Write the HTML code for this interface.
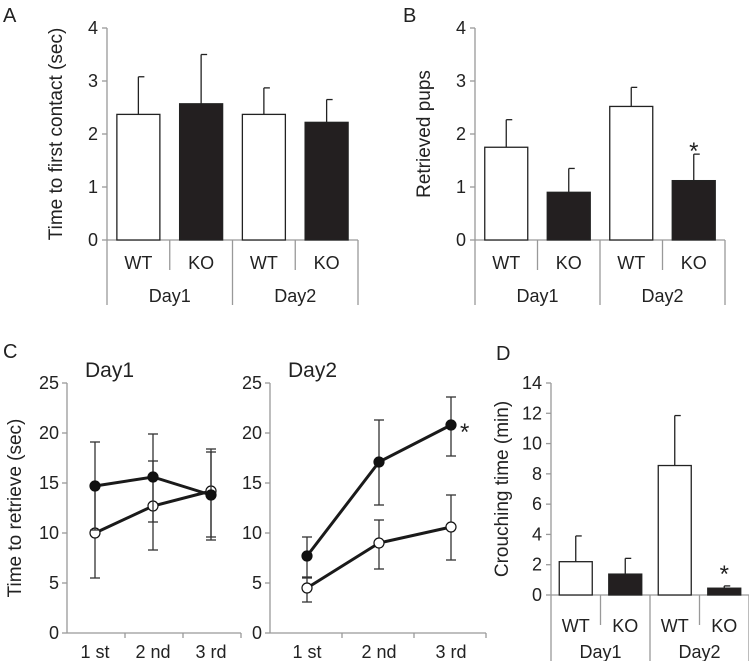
<!DOCTYPE html>
<html><head><meta charset="utf-8"><style>
body{margin:0;background:#fff;}
svg{display:block;font-family:"Liberation Sans",Arial,sans-serif;fill:#222;}
</style></head><body>
<svg id="fig" width="749" height="661" viewBox="0 0 749 661">
<text x="3" y="22" font-size="20">A</text>
<text x="403" y="22" font-size="20">B</text>
<text x="3" y="358" font-size="20">C</text>
<text x="496" y="360" font-size="20">D</text>
</svg>
<script>
const NS="http://www.w3.org/2000/svg";
const svg=document.getElementById('fig');
function mk(t,a,parent){const e=document.createElementNS(NS,t);for(const k in a)e.setAttribute(k,a[k]);(parent||svg).appendChild(e);return e;}

// Panel A data
const aCategories=["WT","KO","WT","KO"];
const aDays=["Day1","Day2"];
const aValues=[2.37,2.57,2.37,2.22];
const aErrors=[0.71,0.93,0.5,0.43];
const aTicks=[0,1,2,3,4];
// Panel B data
const bValues=[1.75,0.9,2.52,1.12];
const bErrors=[0.52,0.45,0.36,0.5];
const bTicks=[0,1,2,3,4];
// Panel D data
const dValues=[2.2,1.38,8.55,0.45];
const dErrors=[1.7,1.04,3.3,0.15];
const dTicks=[0,2,4,6,8,10,12,14];
// Panel C data
const cTicks=[0,5,10,15,20,25];
const cTrials=["1 st","2 nd","3 rd"];
const day1KO=[14.7,15.6,13.8];
const day1KOUp=[19.1,19.9,18.1];
const day1KODn=[10.3,11.1,9.6];
const day1WT=[10.0,12.7,14.2];
const day1WTUp=[14.5,17.2,18.4];
const day1WTDn=[5.5,8.3,9.3];
const day2KO=[7.7,17.1,20.8];
const day2KOUp=[9.6,21.3,23.6];
const day2KODn=[5.6,12.8,17.7];
const day2WT=[4.5,9.0,10.6];
const day2WTUp=[5.5,11.3,13.8];
const day2WTDn=[3.1,6.4,7.3];

const FS=18, TFS=19;
function barPanel(o){
  const g=mk('g',{});
  
  
  const y=v=>o.y0-(v-o.tmin)/(o.tmax-o.tmin)*(o.y0-o.ytop);
  mk('line',{x1:o.ax,y1:o.ytop,x2:o.ax,y2:o.y0,stroke:'#999','stroke-width':1.3},g);
  mk('line',{x1:o.ax,y1:o.y0,x2:o.axEnd,y2:o.y0,stroke:'#999','stroke-width':1.3},g);
  o.ticks.forEach(t=>{
    mk('line',{x1:o.ax-5,y1:y(t),x2:o.ax,y2:y(t),stroke:'#999','stroke-width':1.3},g);
    const tx=mk('text',{x:o.ax-9,y:y(t)+6,'font-size':FS,'text-anchor':'end'},g);tx.textContent=t;
    
    
  });
  const yl=mk('text',{transform:`translate(${o.ylx},${(o.ytop+o.y0)/2}) rotate(-90)`,'font-size':TFS,'text-anchor':'middle'},g);
  yl.textContent=o.ylabel;
  
  
  const cw=(o.axEnd-o.ax)/4;
  o.values.forEach((v,i)=>{
    const cx=o.ax+cw*(i+0.5);
    const bw=o.bw;
    const ey=y(v+o.errors[i]);
    mk('line',{x1:cx,y1:ey,x2:cx,y2:y(v),stroke:'#222','stroke-width':1.3},g);
    mk('line',{x1:cx,y1:ey,x2:cx+6,y2:ey,stroke:'#222','stroke-width':1.3},g);
    const r=mk('rect',{x:cx-bw/2,y:y(v),width:bw,height:o.y0-y(v),fill:i%2?'#231f20':'#fff',stroke:'#222','stroke-width':1.3},g);
    
    
    const lt=mk('text',{x:cx,y:o.y0+o.catDy,'font-size':FS,'text-anchor':'middle'},g);lt.textContent=aCategories[i];
    
    
    const sx=o.ax+cw*(i+1);
    mk('line',{x1:sx,y1:o.y0,x2:sx,y2:o.y0+(i%2?o.bigSep:o.smallSep),stroke:'#999','stroke-width':1.3},g);
  });
  mk('line',{x1:o.ax,y1:o.y0,x2:o.ax,y2:o.y0+o.bigSep,stroke:'#999','stroke-width':1.3},g);
  aDays.forEach((d,j)=>{
    const t=mk('text',{x:o.ax+cw*(2*j+1),y:o.y0+o.dayDy,'font-size':FS,'text-anchor':'middle'},g);t.textContent=d;
    
    
  });
  if(o.star!=null){
    const cx=o.ax+cw*(o.star+0.5);
    const s=mk('text',{x:cx,y:y(o.values[o.star]+o.errors[o.star])-o.starGap,'font-size':24,'text-anchor':'middle'},g);s.textContent='*';
    
    
  }
}
barPanel({name:'panel-a-chart',ax:107,axEnd:358,y0:240,ytop:28,tmin:0,tmax:4,ticks:aTicks,values:aValues,errors:aErrors,bw:43,ylabel:'Time to first contact (sec)',ylx:62,catDy:29,dayDy:62,smallSep:30,bigSep:65});
barPanel({name:'panel-b-chart',ax:475,axEnd:725,y0:240,ytop:28,tmin:0,tmax:4,ticks:bTicks,values:bValues,errors:bErrors,bw:43,ylabel:'Retrieved pups',ylx:430,catDy:29,dayDy:62,smallSep:30,bigSep:65,star:3,starGap:-5});
barPanel({name:'panel-d-chart',ax:551,axEnd:749,y0:595,ytop:383,tmin:0,tmax:14,ticks:dTicks,values:dValues,errors:dErrors,bw:33,ylabel:'Crouching time (min)',ylx:508,catDy:37,dayDy:63,smallSep:30,bigSep:70,star:3,starGap:4});

function linePanel(o){
  const g=mk('g',{});
  
  
  const y=v=>o.y0-v/25*(o.y0-o.ytop);
  const x=i=>o.px[0]+i*(o.px[1]-o.px[0]);
  mk('line',{x1:o.ax,y1:o.ytop,x2:o.ax,y2:o.y0,stroke:'#999','stroke-width':1.3},g);
  mk('line',{x1:o.ax,y1:o.y0,x2:o.axEnd,y2:o.y0,stroke:'#999','stroke-width':1.3},g);
  cTicks.forEach(t=>{
    mk('line',{x1:o.ax-5,y1:y(t),x2:o.ax,y2:y(t),stroke:'#999','stroke-width':1.3},g);
    const tx=mk('text',{x:o.ax-8,y:y(t)+6,'font-size':FS,'text-anchor':'end'},g);tx.textContent=t;
    
    
  });
  const step=(o.axEnd-o.ax)/3;
  for(let k=1;k<=3;k++) mk('line',{x1:o.ax+step*k,y1:o.y0,x2:o.ax+step*k,y2:o.y0+5,stroke:'#999','stroke-width':1.3},g);
  cTrials.forEach((t,i)=>{
    const tx=mk('text',{x:x(i),y:o.y0+25,'font-size':FS,'text-anchor':'middle'},g);tx.textContent=t;
    
    
  });
  const tt=mk('text',{x:o.ax+18,y:o.ytop-6,'font-size':21},g);tt.textContent=o.title;
  
  
  [[o.wt,o.wtUp,o.wtDn,false],[o.ko,o.koUp,o.koDn,true]].forEach(([v,u,d,filled])=>{
    v.forEach((_,i)=>{
      mk('line',{x1:x(i),y1:y(u[i]),x2:x(i),y2:y(d[i]),stroke:'#333','stroke-width':1.3},g);
      [u[i],d[i]].forEach(e=>mk('line',{x1:x(i)-5,y1:y(e),x2:x(i)+5,y2:y(e),stroke:'#333','stroke-width':1.3},g));
    });
    const pl=mk('polyline',{points:v.map((val,i)=>x(i)+','+y(val)).join(' '),fill:'none',stroke:'#1a1a1a','stroke-width':3},g);
    
    
    v.forEach((val,i)=>{
      const c=mk('circle',{cx:x(i),cy:y(val),r:5,fill:filled?'#111':'#fff',stroke:'#111','stroke-width':1.2},g);
      
      
    });
  });
  if(o.star){
    const s=mk('text',{x:x(2)+9,y:y(o.ko[2])+15,'font-size':24},g);s.textContent='*';
    
    
  }
}
linePanel({name:'panel-c-day1',title:'Day1',ax:67,axEnd:241,y0:633,ytop:383,px:[95,153],wt:day1WT,wtUp:day1WTUp,wtDn:day1WTDn,ko:day1KO,koUp:day1KOUp,koDn:day1KODn});
linePanel({name:'panel-c-day2',title:'Day2',ax:270,axEnd:486,y0:633,ytop:383,px:[307,379],wt:day2WT,wtUp:day2WTUp,wtDn:day2WTDn,ko:day2KO,koUp:day2KOUp,koDn:day2KODn,star:true});
const cyl=mk('text',{transform:'translate(21,508) rotate(-90)','font-size':TFS,'text-anchor':'middle'});
cyl.textContent='Time to retrieve (sec)';


</script>
</body></html>
